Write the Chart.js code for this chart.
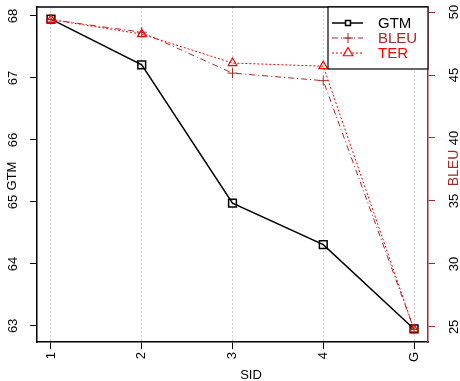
<!DOCTYPE html>
<html>
<head>
<meta charset="utf-8">
<script src="https://cdn.jsdelivr.net/npm/chart.js@4"></script>
<style>
  html, body { margin: 0; padding: 0; background: #fff; }
</style>
</head>
<body>
<canvas id="myChart" width="460" height="381"></canvas>
<script>
const labels = ["1", "2", "3", "4", "G"];
const gtm = [67.95, 67.21, 64.98, 64.31, 62.95];
const bleu = [49.4, 48.4, 45.15, 44.55, 24.8];
const ter = [49.4, 48.25, 45.95, 45.7, 24.8];
const gtmTicks = [63, 64, 65, 66, 67, 68];
const bleuTicks = [25, 30, 35, 40, 45, 50];

const FONT = "'Liberation Sans', Arial, Helvetica, sans-serif";
const BROWN = "#a52a2a";

const pts = arr => arr.map((v, i) => ({ x: i, y: v }));

// textes des axes Y (tournés comme dans R) + cadre + légende
const extras = {
  id: "extras",
  afterDraw(chart) {
    const ctx = chart.ctx;
    const a = chart.chartArea;
    const yL = chart.scales.y;
    const yR = chart.scales.y2;

    ctx.save();
    // ligne du haut du cadre
    ctx.strokeStyle = "#000";
    ctx.lineWidth = 1.5;
    ctx.beginPath();
    ctx.moveTo(a.left, a.top);
    ctx.lineTo(a.right, a.top);
    ctx.stroke();

    const vText = (txt, x, y, color, size) => {
      ctx.save();
      ctx.translate(x, y);
      ctx.rotate(-Math.PI / 2);
      ctx.font = size + "px " + FONT;
      ctx.fillStyle = color;
      ctx.textAlign = "center";
      ctx.textBaseline = "middle";
      ctx.fillText(txt, 0, 0);
      ctx.restore();
    };

    gtmTicks.forEach(v => vText(String(v), 13, yL.getPixelForValue(v), "#000", 13));
    bleuTicks.forEach(v => vText(String(v), 454, yR.getPixelForValue(v), "#000", 13));
    vText("GTM", 12, 176, "#000", 13);
    vText("BLEU", 454, 168, BROWN, 14);

    ctx.font = "13px " + FONT;
    ctx.fillStyle = "#000";
    ctx.textAlign = "center";
    ctx.textBaseline = "middle";
    ctx.fillText("SID", 251, 375);

    // légende
    const bx = a.right - 100, by = a.top, bw = 100, bh = 62;
    ctx.fillStyle = "#fff";
    ctx.fillRect(bx, by, bw, bh);
    ctx.strokeStyle = "#000";
    ctx.lineWidth = 1.2;
    ctx.setLineDash([]);
    ctx.strokeRect(bx, by, bw, bh);

    const legendRadius = [3.5, 5, 5.5];
    [0, 1, 2].forEach(k => {
      const ds = chart.data.datasets[k];
      const ry = by + 16 + k * 15;
      ctx.strokeStyle = ds.borderColor;
      ctx.lineWidth = ds.borderWidth;
      ctx.setLineDash(ds.borderDash || []);
      ctx.beginPath();
      ctx.moveTo(bx + 4, ry);
      ctx.lineTo(bx + 35, ry);
      ctx.stroke();
      ctx.setLineDash([]);
      ctx.fillStyle = "#fff";
      ctx.lineWidth = ds.pointBorderWidth || ds.borderWidth;
      Chart.helpers.drawPoint(ctx, {
        pointStyle: ds.pointStyle,
        radius: legendRadius[k],
        borderWidth: ds.pointBorderWidth || ds.borderWidth,
        rotation: 0
      }, bx + 20, ry);
      ctx.fillStyle = ds.legendColor;
      ctx.font = "15px " + FONT;
      ctx.textAlign = "left";
      ctx.textBaseline = "middle";
      ctx.fillText(ds.label, bx + 50, ry + 1);
    });
    ctx.restore();
  }
};

const ctx = document.getElementById("myChart");

new Chart(ctx, {
  type: "line",
  data: {
    datasets: [
      {
        label: "GTM",
        data: pts(gtm),
        yAxisID: "y",
        borderColor: "#000",
        backgroundColor: "rgba(0,0,0,0)",
        borderWidth: 1.5,
        pointStyle: "rect",
        pointRadius: 5.5,
        pointBorderWidth: 1.5,
        legendColor: "#000",
        order: 3
      },
      {
        label: "BLEU",
        data: pts(bleu),
        yAxisID: "y2",
        borderColor: BROWN,
        backgroundColor: "rgba(0,0,0,0)",
        borderWidth: 1,
        borderDash: [6, 3, 1, 3],
        pointStyle: "cross",
        pointRadius: 5,
        pointBorderWidth: 1,
        legendColor: BROWN,
        order: 2
      },
      {
        label: "TER",
        data: pts(ter),
        yAxisID: "y2",
        borderColor: "#ff0000",
        backgroundColor: "rgba(0,0,0,0)",
        borderWidth: 1,
        borderDash: [2, 2],
        pointStyle: "triangle",
        pointRadius: 5,
        pointBorderWidth: 1.2,
        legendColor: "#ff0000",
        order: 1
      }
    ]
  },
  options: {
    responsive: false,
    animation: false,
    layout: { padding: { top: 7, left: 0, right: 0, bottom: 0 } },
    plugins: {
      legend: { display: false },
      tooltip: { enabled: false }
    },
    scales: {
      x: {
        type: "linear",
        min: -0.154,
        max: 4.154,
        afterBuildTicks: s => { s.ticks = labels.map((_, i) => ({ value: i })); },
        afterFit: s => { s.height = 39; },
        ticks: {
          callback: v => labels[v],
          minRotation: 90,
          maxRotation: 90,
          padding: 3,
          color: "#000",
          font: { family: FONT, size: 13 }
        },
        grid: {
          color: "#cfcfcf",
          lineWidth: 1,
          tickLength: 7,
          tickColor: "#000",
          tickWidth: 1
        },
        border: { display: true, color: "#000", width: 1.5, dash: [2, 2] }
      },
      y: {
        position: "left",
        min: 62.74,
        max: 68.145,
        afterBuildTicks: s => { s.ticks = gtmTicks.map(v => ({ value: v })); },
        afterFit: s => { s.width = 37; },
        ticks: { display: false },
        grid: {
          drawOnChartArea: false,
          drawTicks: true,
          tickLength: 7,
          tickColor: "#000",
          tickWidth: 1
        },
        border: { display: true, color: "#000", width: 1.5 }
      },
      y2: {
        position: "right",
        min: 23.8,
        max: 50.4,
        afterBuildTicks: s => { s.ticks = bleuTicks.map(v => ({ value: v })); },
        afterFit: s => { s.width = 32; },
        ticks: { display: false },
        grid: {
          drawOnChartArea: false,
          drawTicks: true,
          tickLength: 7,
          tickColor: BROWN,
          tickWidth: 1
        },
        border: { display: true, color: BROWN, width: 1.5 }
      }
    }
  },
  plugins: [extras]
});
</script>
</body>
</html>
